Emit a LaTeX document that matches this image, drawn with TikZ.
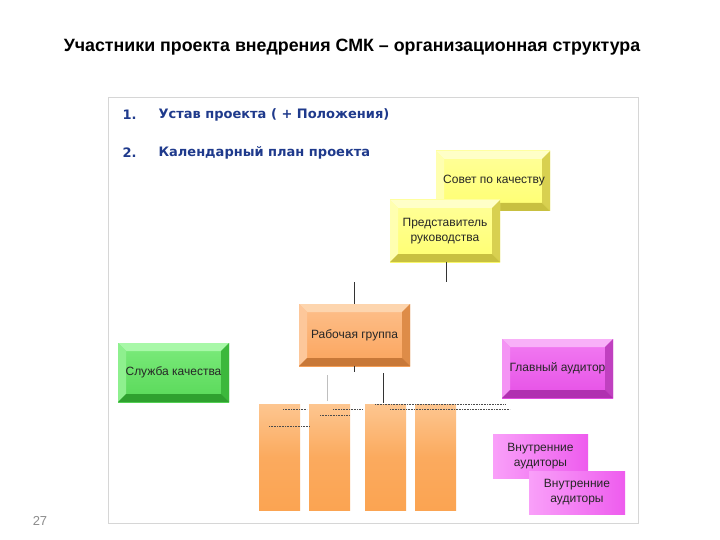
\documentclass[tikz,border=0pt]{standalone}
\usepackage{fontspec}
\setmainfont{Liberation Sans}
\newfontfamily\itemfont{DejaVu Sans}
\definecolor{itemblue}{HTML}{1F3A8C}
\definecolor{framegray}{HTML}{D6D6D6}
\def\defhex#1{\definecolor{#1}{HTML}{#1}}
\defhex{FFFF9A}\defhex{FFFF70}\defhex{FFFFC8}\defhex{FFFFB0}\defhex{D8D050}\defhex{C8C040}
\defhex{FDC08C}\defhex{FBA45C}\defhex{FDD5AE}\defhex{FDC79A}\defhex{DE8C48}\defhex{C87838}
\defhex{7CEB7C}\defhex{58D858}\defhex{A8F8A8}\defhex{8EF08E}\defhex{3CB83C}\defhex{2FA02F}
\defhex{F27CF2}\defhex{E650E6}\defhex{F8B0F8}\defhex{F494F4}\defhex{C040C0}\defhex{B030B0}
\defhex{FDC690}\defhex{FBA452}\defhex{FBAA5E}\defhex{F9A0F9}\defhex{EE5CEE}
\tikzset{
  bevel/.style n args={6}{draw=none, inner sep=0pt, align=center,
    font=\fontsize{12}{15}\selectfont, text=black!85,
    path picture={
      \shade[top color=#1, bottom color=#2] (path picture bounding box.south west) rectangle (path picture bounding box.north east);
      \fill[#3] (path picture bounding box.north west) -- (path picture bounding box.north east)
        -- ([xshift=-8pt,yshift=-8pt]path picture bounding box.north east)
        -- ([xshift=8pt,yshift=-8pt]path picture bounding box.north west) -- cycle;
      \fill[#4] (path picture bounding box.north west) -- ([xshift=8pt,yshift=-8pt]path picture bounding box.north west)
        -- ([xshift=8pt,yshift=8pt]path picture bounding box.south west)
        -- (path picture bounding box.south west) -- cycle;
      \fill[#5] (path picture bounding box.north east) -- ([xshift=-8pt,yshift=-8pt]path picture bounding box.north east)
        -- ([xshift=-8pt,yshift=8pt]path picture bounding box.south east)
        -- (path picture bounding box.south east) -- cycle;
      \fill[#6] (path picture bounding box.south west) -- ([xshift=8pt,yshift=8pt]path picture bounding box.south west)
        -- ([xshift=-8pt,yshift=8pt]path picture bounding box.south east)
        -- (path picture bounding box.south east) -- cycle;
    }},
  yellowbox/.style={bevel={FFFF9A}{FFFF70}{FFFFC8}{FFFFB0}{D8D050}{C8C040}},
  orangebox/.style={bevel={FDC08C}{FBA45C}{FDD5AE}{FDC79A}{DE8C48}{C87838}},
  greenbox/.style={bevel={7CEB7C}{58D858}{A8F8A8}{8EF08E}{3CB83C}{2FA02F}},
  magentabox/.style={bevel={F27CF2}{E650E6}{F8B0F8}{F494F4}{C040C0}{B030B0}},
  bar/.style={draw=none, inner sep=0pt, top color=FDC690, bottom color=FBA452, middle color=FBAA5E},
  audbox/.style={draw=none, inner sep=0pt, align=center, left color=F9A0F9, right color=EE5CEE,
    font=\fontsize{12}{15}\selectfont, text=black!85},
  conn/.style={draw=black!80, line width=0.7pt},
  dots/.style={draw=black!70, line width=0.5pt, dash pattern=on 0.8pt off 0.8pt},
  itemtext/.style={font=\itemfont\bfseries\fontsize{13}{15}\selectfont, text=itemblue, anchor=west},
}
\begin{document}
\begin{tikzpicture}[x=1pt,y=-1pt]
\useasboundingbox (0,0) rectangle (720,540);
\fill[white] (0,0) rectangle (720,540);
% frame
\node[draw=framegray, line width=0.8pt, minimum width=530pt, minimum height=426pt, inner sep=0pt] (frame) at (373,310) {};
% title
\node[font=\bfseries\fontsize{17.8}{20}\selectfont, text=black] (title) at (352,47) {Участники проекта внедрения СМК – организационная структура};
% items
\node[itemtext] (n1) at (119,115) {1.};
\node[itemtext] (t1) at (155,115) {Устав проекта ( + Положения)};
\node[itemtext] (n2) at (119,153) {2.};
\node[itemtext] (t2) at (155,153) {Календарный план проекта};
% boxes
\node[yellowbox, minimum width=114pt, minimum height=60pt] (sovet) at (493,181) {\hspace*{2pt}Совет по качеству};
\node[yellowbox, minimum width=110pt, minimum height=62pt] (pred) at (445,231) {Представитель\\руководства};
\node[orangebox, minimum width=111pt, minimum height=62pt] (rab) at (354.5,335) {Рабочая группа};
\node[greenbox, minimum width=111pt, minimum height=59pt] (sluzh) at (173.5,372.5) {Служба качества};
\node[magentabox, minimum width=111pt, minimum height=59pt] (glav) at (557.5,368.5) {Главный аудитор};
% bars
\node[bar, minimum width=41pt, minimum height=106pt] (b1) at (279.5,457) {};
\node[bar, minimum width=41pt, minimum height=106pt] (b2) at (329.5,457) {};
\node[bar, minimum width=41pt, minimum height=106pt] (b3) at (385.5,457) {};
\node[bar, minimum width=41pt, minimum height=106pt] (b4) at (435.5,457) {};
% auditors
\node[audbox, minimum width=95pt, minimum height=44pt] (aud1) at (540.5,456) {Внутренние\\аудиторы};
\node[audbox, minimum width=96pt, minimum height=43pt] (aud2) at (577,492.5) {Внутренние\\аудиторы};
% connectors
\coordinate (c1) at (446,282);
\coordinate (c2) at (354,282);
\coordinate (c3) at (354.5,372);
\coordinate (c4a) at (327,375);
\coordinate (c4b) at (327,401);
\coordinate (c5a) at (383,373);
\coordinate (c5b) at (383,403);
\draw[conn] (pred.south -| c1) -- (c1);
\draw[conn] (c2) -- (rab.north -| c2);
\draw[conn] (rab.south) -- (c3);
\draw[draw=black!25, line width=0.7pt] (c4a) -- (c4b);
\draw[conn] (c5a) -- (c5b);
% dotted remnants
\draw[dots] (283,409) -- (307,409);
\draw[dots] (333,409) -- (363,409);
\draw[dots] (375,404) -- (505,404);
\draw[dots] (390,409) -- (510,409);
\draw[dots] (320,415) -- (350,415);
\draw[dots] (269,426) -- (310,426);
% page number
\node[text=black!45, font=\fontsize{13}{15}\selectfont] (pg) at (40,521) {27};
\end{tikzpicture}
\end{document}
